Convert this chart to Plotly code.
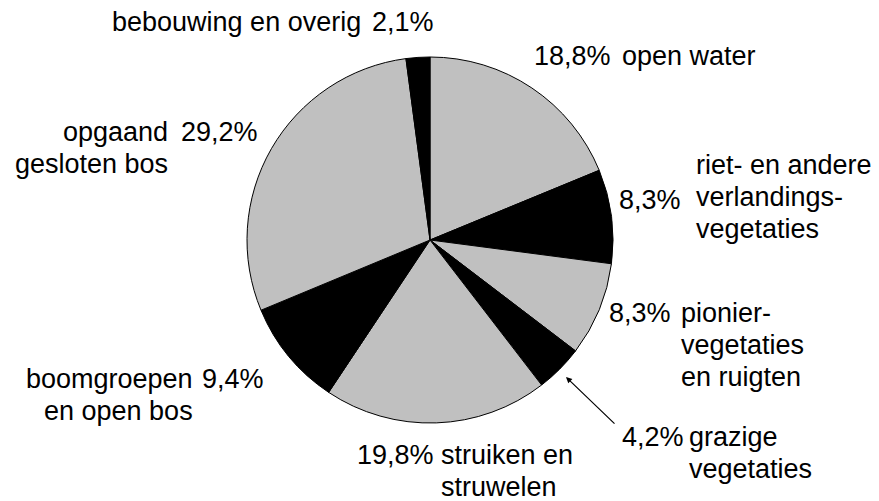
import plotly.graph_objects as go

# ---- data ----
categories = ["open water", "riet- en andere verlandingsvegetaties", "pioniervegetaties en ruigten",
              "grazige vegetaties", "struiken en struwelen", "boomgroepen en open bos",
              "opgaand gesloten bos", "bebouwing en overig"]
values = [18.8, 8.3, 8.3, 4.2, 19.8, 9.4, 29.2, 2.1]
label_lines = [
    ["open water"],
    ["riet- en andere", "verlandings-", "vegetaties"],
    ["pionier-", "vegetaties", "en ruigten"],
    ["grazige", "vegetaties"],
    ["struiken en", "struwelen"],
    ["boomgroepen", "en open bos"],
    ["opgaand", "gesloten bos"],
    ["bebouwing en overig"],
]
slice_colors = ["#c0c0c0", "#000000"] * 4

# ---- layout of labels (pixels in the 879x501 canvas) ----
W, H = 879, 501
FONT = dict(family="Liberation Sans, Arial, sans-serif", size=27, color="black")
LS = 32   # line spacing
PAD = 3   # annotation inner padding compensation
# (pct_x, pct_y, pct_anchor), (name_x, name_y0, name_anchors per line)
label_pos = [
    ((535, 56, "left"), (623, 56, ["left"])),
    ((620, 200, "left"), (697, 165, ["left"] * 3)),
    ((610, 313, "left"), (682, 313, ["left"] * 3)),
    ((623, 437, "left"), (690, 437, ["left"] * 2)),
    ((433, 455, "right"), (442, 455, ["left"] * 2)),
    ((203, 379, "left"), (27, 379, ["left", "left"])),
    ((182, 132, "left"), (167, 132, ["right", "right"])),
    ((433, 22, "right"), (113, 22, ["left"])),
]
line_x_override = {(5, 1): 45}

def fmt(v):
    return f"{v:.1f}".replace(".", ",") + "%"

def ax_x(x, anchor):
    return (x - PAD if anchor == "left" else x + PAD) / W

fig = go.Figure(go.Pie(
    labels=categories, values=values, sort=False, direction="clockwise", rotation=0,
    marker=dict(colors=slice_colors, line=dict(color="black", width=1)),
    textinfo="none", hoverinfo="skip", showlegend=False,
    domain=dict(x=[(430 - 183) / W, (430 + 183) / W], y=[1 - 423 / H, 1 - 57 / H]),
))

annotations = []
for i, (v, lines) in enumerate(zip(values, label_lines)):
    (px, py, pa), (nx, ny, nas) = label_pos[i]
    annotations.append(dict(text=fmt(v), x=ax_x(px, pa), y=1 - py / H, xref="paper", yref="paper",
                            xanchor=pa, yanchor="middle", showarrow=False, font=FONT))
    for j, line in enumerate(lines):
        lx = line_x_override.get((i, j), nx)
        annotations.append(dict(text=line, x=ax_x(lx, nas[j]), y=1 - (ny + j * LS) / H,
                                xref="paper", yref="paper", xanchor=nas[j], yanchor="middle",
                                showarrow=False, font=FONT))

# arrow pointing to the small "grazige vegetaties" slice
annotations.append(dict(text="", x=566 / W, y=1 - 377 / H, xref="paper", yref="paper",
                        showarrow=True, ax=50, ay=48, arrowhead=2, arrowsize=1,
                        arrowwidth=1.2, arrowcolor="black"))

fig.update_layout(width=W, height=H, margin=dict(l=0, r=0, t=0, b=0),
                  paper_bgcolor="white", plot_bgcolor="white", annotations=annotations)
fig.write_html("out.html", config={"displayModeBar": False},
               post_script="document.body.style.margin='0';document.body.style.overflow='hidden';")
